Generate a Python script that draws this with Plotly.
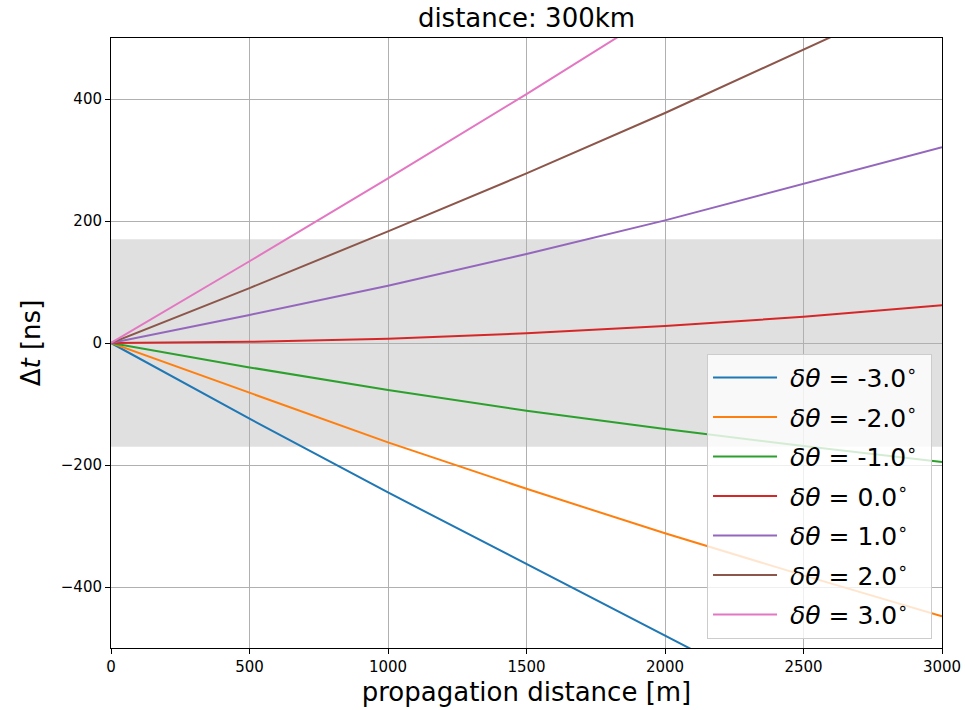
import plotly.graph_objects as go

# propagation distance [m]
distance = [0, 500, 1000, 1500, 2000, 2500, 3000]

# Δt [ns] for each angular offset
dt_m3 = [0, -124, -245, -363, -481, -597, -712]
dt_m2 = [0, -82, -163, -239, -312, -381, -448]
dt_m1 = [0, -40, -77, -111, -141, -169, -195]
dt_0 = [0, 2, 7, 16, 28, 43, 62]
dt_p1 = [0, 46, 94, 146, 201, 261, 321]
dt_p2 = [0, 90, 183, 278, 377, 480, 585]
dt_p3 = [0, 134, 270, 408, 550, 690, 835]

angles = ["-3.0", "-2.0", "-1.0", "0.0", "1.0", "2.0", "3.0"]
series = [dt_m3, dt_m2, dt_m1, dt_0, dt_p1, dt_p2, dt_p3]
colors = ["#1f77b4", "#ff7f0e", "#2ca02c", "#d62728", "#9467bd", "#8c564b", "#e377c2"]

band_low, band_high = -170, 170

FONT = "DejaVu Sans"

fig = go.Figure()
for ang, ys, col in zip(angles, series, colors):
    fig.add_trace(go.Scatter(
        x=distance, y=ys, mode="lines",
        line=dict(color=col, width=2),
        name=f"&nbsp;<i>δθ</i> = {ang}<sup>∘</sup>&nbsp;",
        legendgroup=ang,
    ))

fig.add_shape(type="rect", xref="x domain", yref="y", x0=0, x1=1,
              y0=band_low, y1=band_high, fillcolor="#e0e0e0",
              line=dict(width=0), layer="below")

axis_common = dict(
    showline=True, mirror=True, linecolor="black", linewidth=1,
    ticks="outside", ticklen=5, tickcolor="black", tickwidth=1,
    showgrid=True, gridcolor="#b0b0b0", gridwidth=1, zeroline=False,
    tickfont=dict(family=FONT, size=15, color="black"),
    automargin=False, ticklabeloverflow="allow",
)

fig.update_layout(
    width=965, height=710,
    margin=dict(l=111, r=23, t=38, b=62, autoexpand=False),
    paper_bgcolor="white", plot_bgcolor="white",
    font=dict(family=FONT, color="black"),
    title=dict(text="distance: 300km", x=0.5, xref="paper", y=1 - 18 / 710,
               yref="container", yanchor="middle", xanchor="center",
               font=dict(family=FONT, size=26, color="black")),
    xaxis=dict(range=[0, 3000], dtick=500, tick0=0,
               title=dict(text="propagation distance [m]", standoff=7,
                          font=dict(family=FONT, size=26, color="black")),
               **axis_common),
    yaxis=dict(range=[-500, 500], dtick=200, tick0=0,
               title=dict(text="Δ<i>t</i> [ns]", standoff=12,
                          font=dict(family=FONT, size=26, color="black")),
               **axis_common),
    legend=dict(x=0.988, y=0.015, xanchor="right", yanchor="bottom",
                bgcolor="rgba(255,255,255,0.8)", bordercolor="#cccccc",
                borderwidth=1, font=dict(family=FONT, size=25, color="black"),
                tracegroupgap=4, itemwidth=64),
    showlegend=True,
)

fig.write_html("out.html")
